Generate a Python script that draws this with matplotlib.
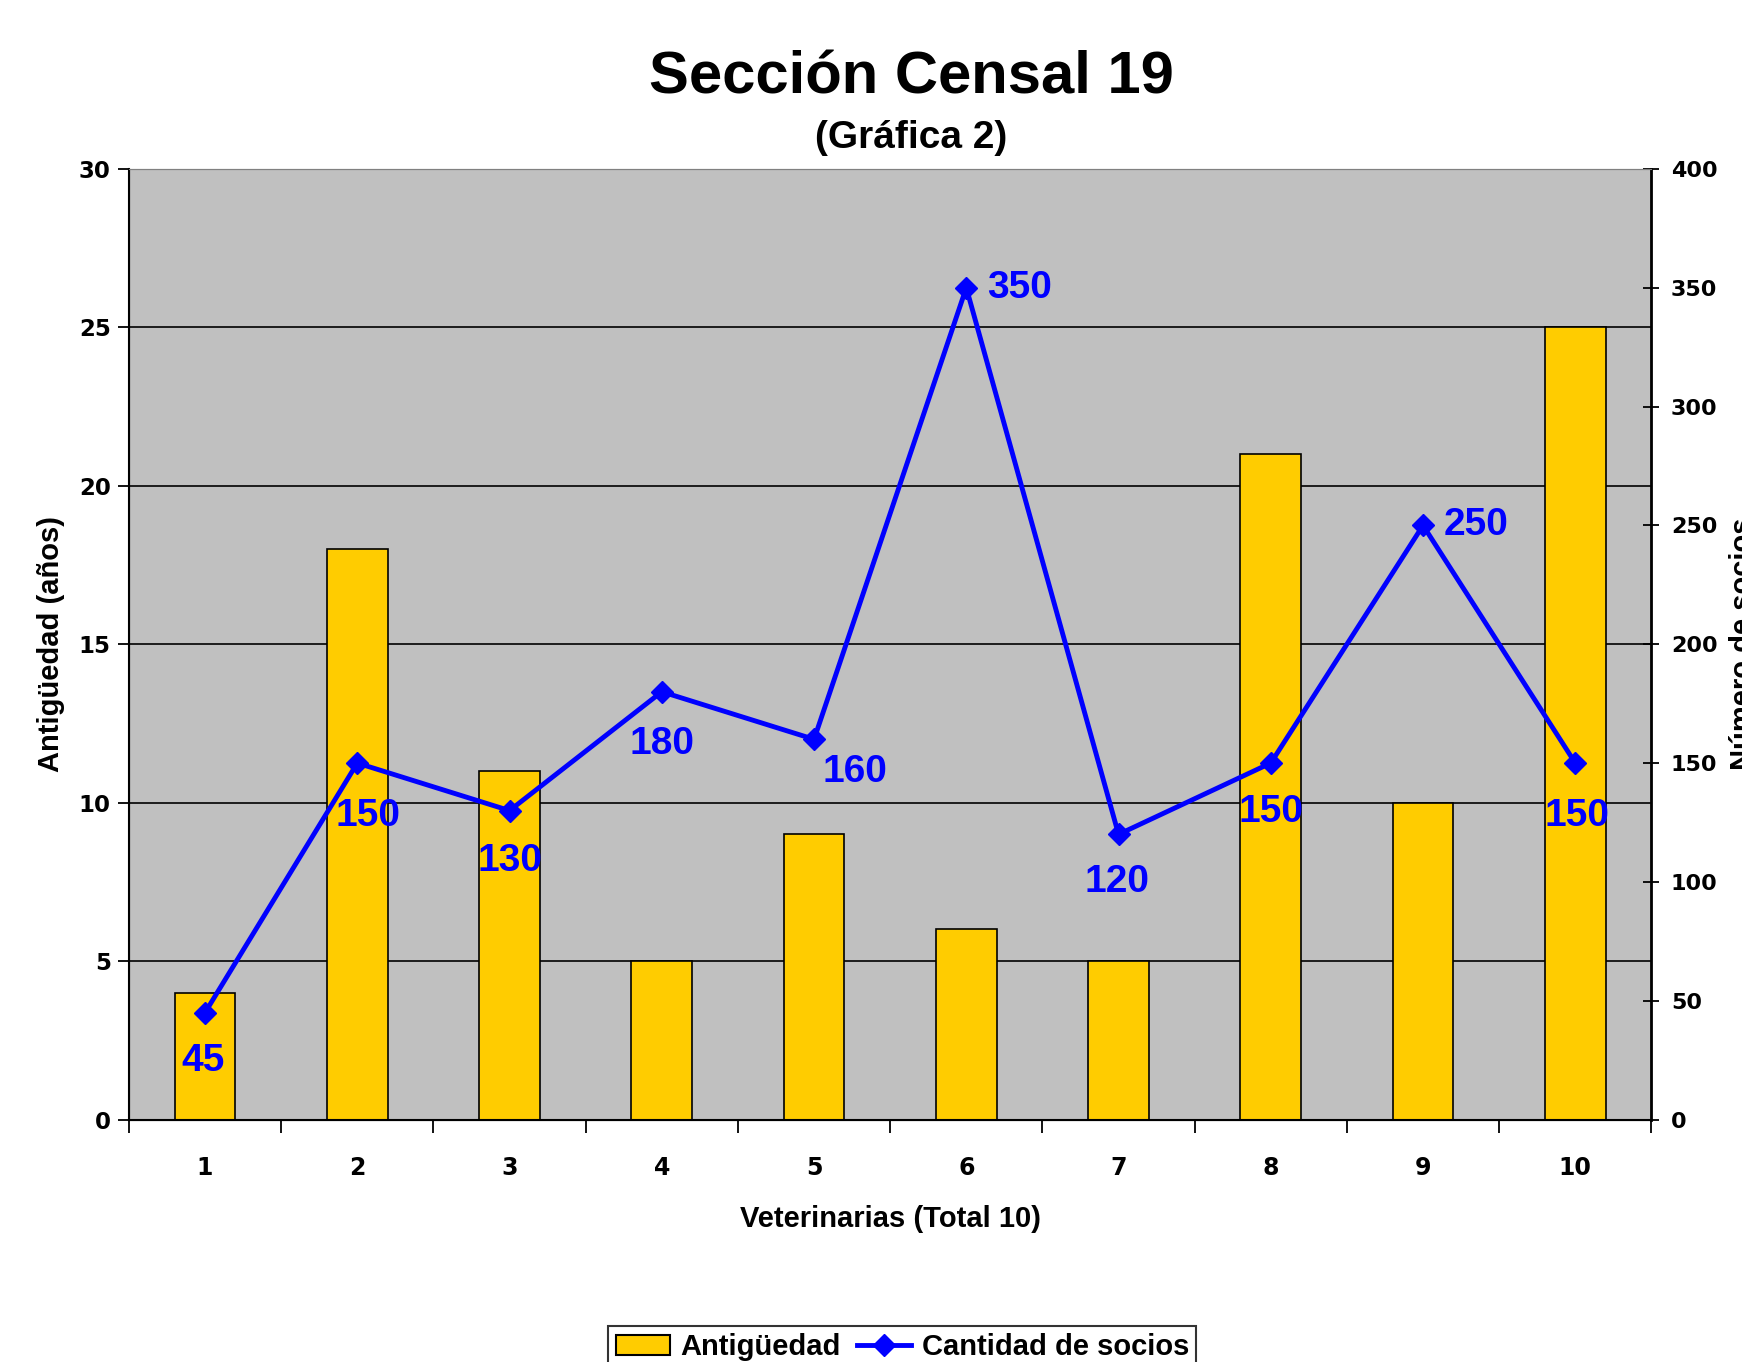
import matplotlib.pyplot as plt
from matplotlib.lines import Line2D
from matplotlib.patches import Patch

plt.rcParams['font.family'] = ['Liberation Sans', 'DejaVu Sans']
plt.rcParams['font.weight'] = 'bold'

# datos
veterinarias = [1, 2, 3, 4, 5, 6, 7, 8, 9, 10]
antiguedad = [4, 18, 11, 5, 9, 6, 5, 21, 10, 25]
socios = [45, 150, 130, 180, 160, 350, 120, 150, 250, 150]

# desplazamiento de cada etiqueta (pixeles)
label_offsets = [(-2, -48), (11, -53), (0, -50), (0, -52), (41, -33),
                 (53, 0), (-2, -48), (0, -49), (53, 0), (2, -53)]

fig = plt.figure(figsize=(17.42, 13.62), dpi=100)
ax = fig.add_axes([0.074, 0.178, 0.874, 0.698])
ax.set_facecolor('#C0C0C0')

ax.bar(veterinarias, antiguedad, width=0.4, color='#FFCC00', edgecolor='black',
       linewidth=1.2, zorder=2)
ax.set_xlim(0.5, 10.5)
ax.set_ylim(0, 30)
ax.set_yticks(range(0, 31, 5))
ax.yaxis.grid(True, color='black', linewidth=1.2, zorder=1)
ax.set_axisbelow(True)
ax.set_xticks(veterinarias)
ax.set_xticks([x + 0.5 for x in range(0, 11)], minor=True)
ax.tick_params(axis='x', which='major', length=0, labelsize=17, pad=26)
ax.tick_params(axis='x', which='minor', length=9, width=1.3, direction='out')
ax.tick_params(axis='y', length=8, width=1.3, direction='out', labelsize=16.5, pad=5)
for lbl in ax.get_xticklabels() + ax.get_yticklabels():
    lbl.set_fontweight('bold')
    lbl.set_family('DejaVu Sans')
ax.spines['top'].set_color('#808080')
ax.spines['left'].set_linewidth(1.5)
ax.spines['bottom'].set_linewidth(1.5)
ax.set_ylabel('Antigüedad (años)', fontsize=21, fontweight='bold')
ax.yaxis.set_label_coords(-0.042, 0.5)
ax.set_xlabel('Veterinarias (Total 10)', fontsize=21, fontweight='bold', labelpad=18)

ax2 = ax.twinx()
ax2.plot(veterinarias, socios, color='#0000FF', linewidth=3.5, marker='D',
         markersize=11, zorder=3)
ax2.set_ylim(0, 400)
ax2.set_yticks(range(0, 401, 50))
ax2.tick_params(axis='y', length=12, width=1.3, direction='inout', labelsize=16, pad=8)
for lbl in ax2.get_yticklabels():
    lbl.set_fontweight('bold')
    lbl.set_family('DejaVu Sans')
ax2.spines['right'].set_linewidth(2)
ax2.spines['top'].set_color('#808080')

for x, y, off in zip(veterinarias, socios, label_offsets):
    ax2.annotate(str(y), (x, y), xytext=off, textcoords='offset pixels',
                 ha='center', va='center', fontsize=28, fontweight='bold',
                 color='#0000FF')

fig.text(0.9925, 0.527, 'Número de socios', rotation=90, ha='left', va='center',
         fontsize=21, fontweight='bold')

fig.text(0.523, 0.943, 'Sección Censal 19', ha='center', va='center',
         fontsize=43, fontweight='bold')
fig.text(0.523, 0.899, '(Gráfica 2)', ha='center', va='center',
         fontsize=28, fontweight='bold')

handles = [Patch(facecolor='#FFCC00', edgecolor='black', linewidth=1.5),
           Line2D([], [], color='#0000FF', linewidth=3.5, marker='D', markersize=11)]
leg = fig.legend(handles, ['Antigüedad', 'Cantidad de socios'], loc='upper center',
                 bbox_to_anchor=(0.518, 0.037), ncol=2, fontsize=21, frameon=True,
                 fancybox=False, edgecolor='black', borderpad=0.25,
                 handlelength=1.86, columnspacing=0.57, handletextpad=0.35)
leg.get_frame().set_linewidth(1.5)
for t in leg.get_texts():
    t.set_fontweight('bold')

fig.savefig('out.png', dpi=100)
